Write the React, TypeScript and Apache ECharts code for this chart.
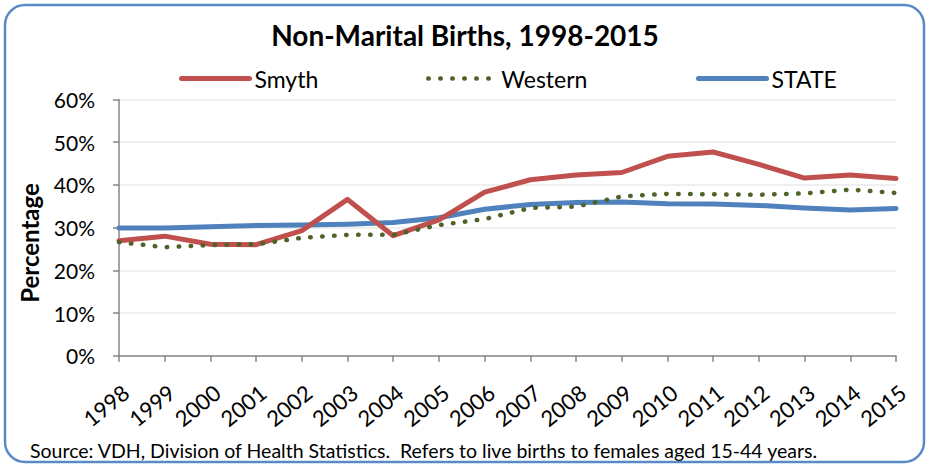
import React, { useEffect, useRef } from "react";
import * as echarts from "echarts";

const years = ["1998","1999","2000","2001","2002","2003","2004","2005","2006","2007","2008","2009","2010","2011","2012","2013","2014","2015"];
const smyth = [26.9, 28.0, 26.1, 26.0, 29.3, 36.6, 28.1, 31.8, 38.3, 41.2, 42.3, 42.9, 46.7, 47.7, 44.8, 41.6, 42.3, 41.5];
const western = [26.6, 25.4, 25.9, 26.1, 27.6, 28.3, 28.3, 30.6, 32.0, 34.6, 34.9, 37.3, 37.9, 37.8, 37.7, 38.0, 38.9, 38.1];
const state = [29.9, 29.9, 30.2, 30.5, 30.6, 30.8, 31.2, 32.3, 34.3, 35.4, 35.9, 36.0, 35.6, 35.5, 35.2, 34.6, 34.1, 34.5];

const FONT = "Lato, 'Noto Sans', sans-serif";
const RED = "#C0504D";
const GREEN = "#4F6228";
const BLUE = "#4F81BD";
const DOTS = [0.5, 11.5];

export default function App() {
  const ref = useRef<HTMLDivElement>(null);
  useEffect(() => {
    if (!ref.current) return;
    const chart = echarts.init(ref.current, null, { renderer: "svg" });
    const legendBase = {
      top: 67,
      padding: 0,
      itemWidth: 68,
      itemHeight: 22,
      itemGap: 4,
      itemStyle: { opacity: 0 },
      textStyle: { fontFamily: FONT, fontSize: 23, color: "#000" },
      selectedMode: false,
    };
    chart.setOption({
      animation: false,
      backgroundColor: "#fff",
      textStyle: { fontFamily: FONT },
      title: [
        {
          text: "Non-Marital Births, 1998-2015",
          left: "center",
          top: 19,
          padding: 0,
          textStyle: { fontFamily: FONT, fontSize: 28, fontWeight: "bold", color: "#000", lineHeight: 32 },
        },
        {
          text: "Source: VDH, Division of Health Statistics.  Refers to live births to females aged 15-44 years.",
          left: 30,
          top: 439,
          padding: 0,
          textStyle: { fontFamily: FONT, fontSize: 19.5, fontWeight: "normal", color: "#000", lineHeight: 22 },
        },
      ],
      legend: [
        { ...legendBase, left: 179, data: ["Smyth"], lineStyle: { width: 5, color: RED, cap: "round" } },
        { ...legendBase, left: 426, data: ["Western"], lineStyle: { width: 4.5, color: GREEN, type: DOTS, cap: "round" } },
        { ...legendBase, left: 696, data: ["STATE"], lineStyle: { width: 5, color: BLUE, cap: "round" } },
      ],
      grid: { left: 119, right: 34, top: 99.5, bottom: 110.3, containLabel: false },
      xAxis: {
        type: "category",
        data: years,
        boundaryGap: false,
        axisLine: { show: true, lineStyle: { color: "#868686", width: 1.5 } },
        axisTick: { show: true, length: 6, lineStyle: { color: "#868686", width: 1.5 } },
        axisLabel: {
          rotate: 39, margin: 25, verticalAlign: "top", fontFamily: FONT, fontSize: 22, color: "#000", interval: 0,
        },
        splitLine: { show: false },
      },
      yAxis: {
        type: "value",
        min: 0,
        max: 60,
        interval: 10,
        axisLine: { show: true, lineStyle: { color: "#868686", width: 1.5 } },
        axisTick: { show: true, length: 6, lineStyle: { color: "#868686", width: 1.5 } },
        axisLabel: { formatter: "{value}%", margin: 24, fontFamily: FONT, fontSize: 21, color: "#000" },
        splitLine: { show: true, lineStyle: { color: "#EFEFEF", width: 2 } },
      },
      series: [
        {
          name: "Smyth", type: "line", data: smyth, symbol: "none", z: 3,
          lineStyle: { color: RED, width: 5, cap: "round", join: "round" }, itemStyle: { color: RED },
        },
        {
          name: "Western", type: "line", data: western, symbol: "none", z: 4,
          lineStyle: { color: GREEN, width: 4.5, type: DOTS, cap: "round" }, itemStyle: { color: GREEN },
        },
        {
          name: "STATE", type: "line", data: state, symbol: "none", z: 2,
          lineStyle: { color: BLUE, width: 5, cap: "round", join: "round" }, itemStyle: { color: BLUE },
        },
      ],
      graphic: [
        {
          type: "text",
          x: 29,
          y: 243,
          rotation: Math.PI / 2,
          style: {
            text: "Percentage",
            fontFamily: FONT,
            fontSize: 24,
            fontWeight: "bold",
            fill: "#000",
            align: "center",
            verticalAlign: "middle",
          },
          silent: true,
        },
        {
          type: "rect",
          shape: { x: 5, y: 5, width: 919, height: 457, r: 20 },
          style: { fill: "none", stroke: "#5A8AC6", lineWidth: 2.5 },
          silent: true,
          z: 100,
        },
      ],
    });
    return () => chart.dispose();
  }, []);
  return <div ref={ref} style={{ position: "absolute", left: 0, top: 0, width: 930, height: 466 }} />;
}
